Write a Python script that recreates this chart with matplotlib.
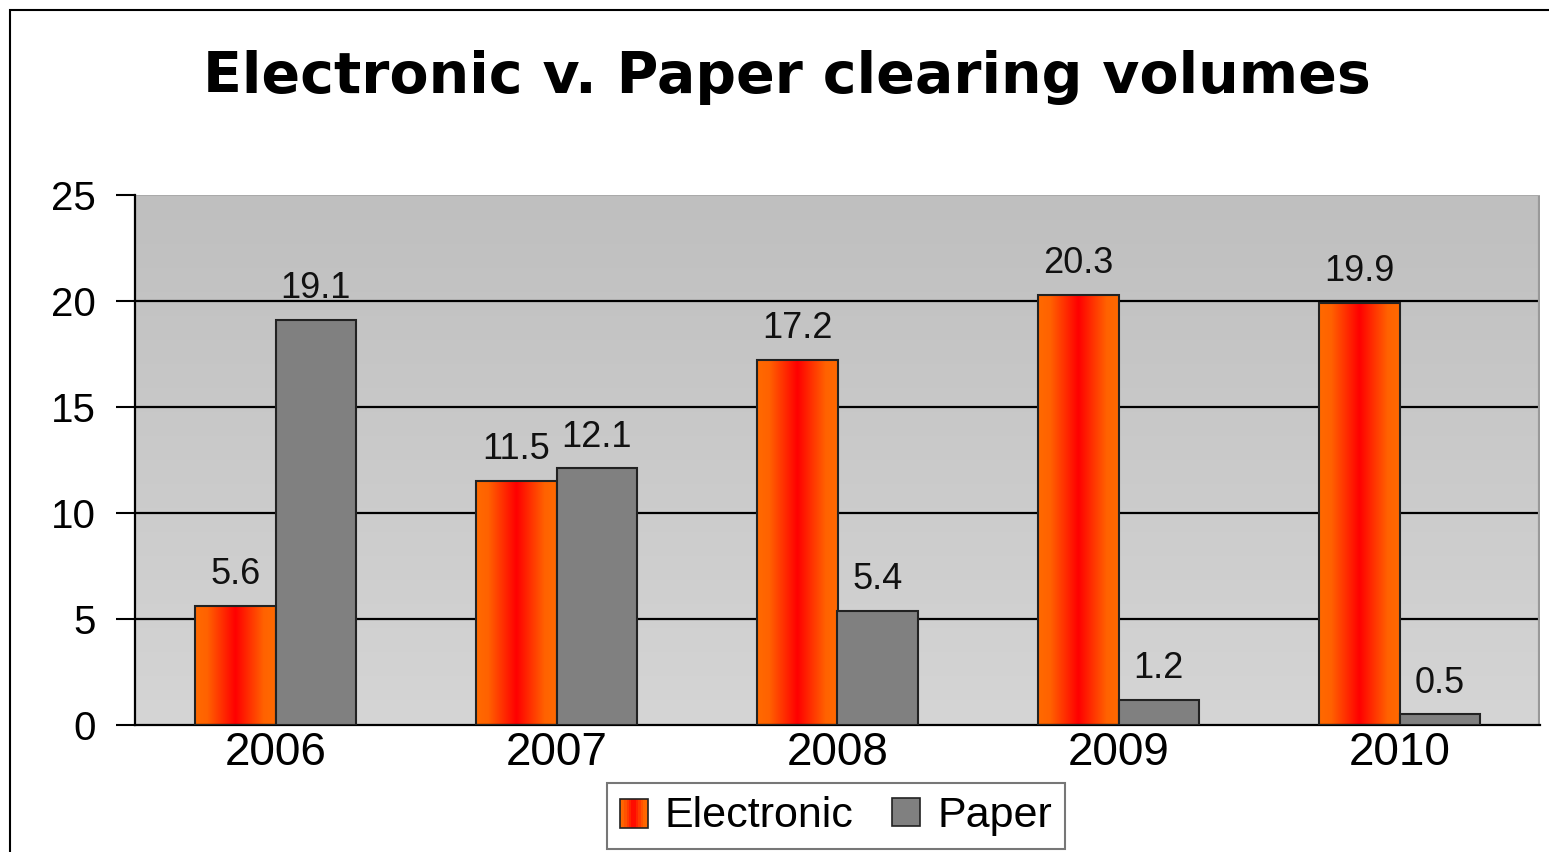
import numpy as np
import matplotlib
matplotlib.use('Agg')
import matplotlib.pyplot as plt
from matplotlib.colors import LinearSegmentedColormap
from matplotlib.patches import Rectangle
from matplotlib.legend_handler import HandlerBase

# dados
anos = ['2006', '2007', '2008', '2009', '2010']
electronic = [5.6, 11.5, 17.2, 20.3, 19.9]
paper = [19.1, 12.1, 5.4, 1.2, 0.5]

plt.rcParams['font.family'] = ['Liberation Sans', 'DejaVu Sans']

W, H = 1549, 852
fig = plt.figure(figsize=(W / 100, H / 100), dpi=100)
ax = fig.add_axes([135 / W, 1 - 725 / H, 1405 / W, 530 / H])

x = np.arange(len(anos))
largura = 0.286

cmap_bar = LinearSegmentedColormap.from_list('laranja', [(0, '#ff6a00'), (0.15, '#ff6200'), (0.5, '#ff0000'),
                                                         (0.85, '#ff6200'), (1, '#ff6a00')])
cmap_bg = LinearSegmentedColormap.from_list('fundo', ['#d5d5d5', '#bfbfbf'])

ax.set_xlim(-0.5, len(anos) - 0.5)
ax.set_ylim(0, 25)

# fundo em degradê
ax.imshow(np.linspace(0, 1, 256).reshape(-1, 1), cmap=cmap_bg, origin='lower', aspect='auto',
          extent=(-0.5, len(anos) - 0.5, 0, 25), zorder=0)

bars_e = ax.bar(x - largura / 2, electronic, largura, facecolor='none', edgecolor='#222222',
                linewidth=1.5, zorder=3)
bars_p = ax.bar(x + largura / 2, paper, largura, color='#808080', edgecolor='#222222',
                linewidth=1.5, zorder=3)

grad = np.linspace(0, 1, 256).reshape(1, -1)
for b in bars_e:
    im = ax.imshow(grad, cmap=cmap_bar, aspect='auto', zorder=2.5,
                   extent=(b.get_x(), b.get_x() + b.get_width(), 0, b.get_height()))
    im.set_clip_path(b)

for bars in (bars_e, bars_p):
    ax.bar_label(bars, fmt='%.1f', padding=10, fontsize=26, color='#111111')

ax.set_xlim(-0.5, len(anos) - 0.5)
ax.set_ylim(0, 25)

for v in [5, 10, 15, 20]:
    ax.axhline(v, color='black', linewidth=1.6, zorder=1)

ax.set_yticks([0, 5, 10, 15, 20, 25])
ax.set_xticks(x, anos)
ax.tick_params(axis='y', labelsize=29, length=14, width=1.5, pad=14, direction='out')
ax.tick_params(axis='x', labelsize=33, length=0, pad=4)
for s in ['top', 'right']:
    ax.spines[s].set_visible(False)
ax.spines['left'].set_linewidth(1.6)
ax.spines['bottom'].set_linewidth(1.6)
ax.axvline(len(anos) - 0.5, color='#999999', linewidth=3, zorder=1)
ax.axhline(25, color='#aaaaaa', linewidth=1.5, zorder=1)

fig.text(0.508, 1 - 93 / H, 'Electronic v. Paper clearing volumes', ha='center',
         va='baseline', fontsize=41, fontweight='bold', family='DejaVu Sans')

# moldura da figura
fig.patches.append(Rectangle((10 / W, -0.1), 1.2, 1 - 10 / H + 0.1, transform=fig.transFigure,
                             fill=False, edgecolor='black', linewidth=1.5))


class HandlerGradiente(HandlerBase):
    def create_artists(self, legend, orig_handle, xd, yd, width, height, fontsize, trans):
        n = 12
        arts = []
        w = width / n
        for i in range(n):
            c = cmap_bar((i + 0.5) / n)
            arts.append(Rectangle((xd + i * w, yd), w * 1.05, height, facecolor=c, edgecolor='none',
                                  transform=trans))
        arts.append(Rectangle((xd, yd), width, height, facecolor='none', edgecolor='#222222',
                              linewidth=1.2, transform=trans))
        return arts


h_e = Rectangle((0, 0), 1, 1)
h_p = Rectangle((0, 0), 1, 1, facecolor='#808080', edgecolor='#222222', linewidth=1.2)
leg = fig.legend([h_e, h_p], ['Electronic', 'Paper'], handler_map={h_e: HandlerGradiente()},
                 loc='center', bbox_to_anchor=(836 / W, 1 - 816 / H), ncol=2, fontsize=31,
                 frameon=True, fancybox=False, edgecolor='#555555', handlelength=0.65,
                 handleheight=0.65, handletextpad=0.4, columnspacing=0.9, borderpad=0.3,
                 borderaxespad=0)
leg.get_frame().set_linewidth(1.5)

fig.savefig('out.png', dpi=100)
